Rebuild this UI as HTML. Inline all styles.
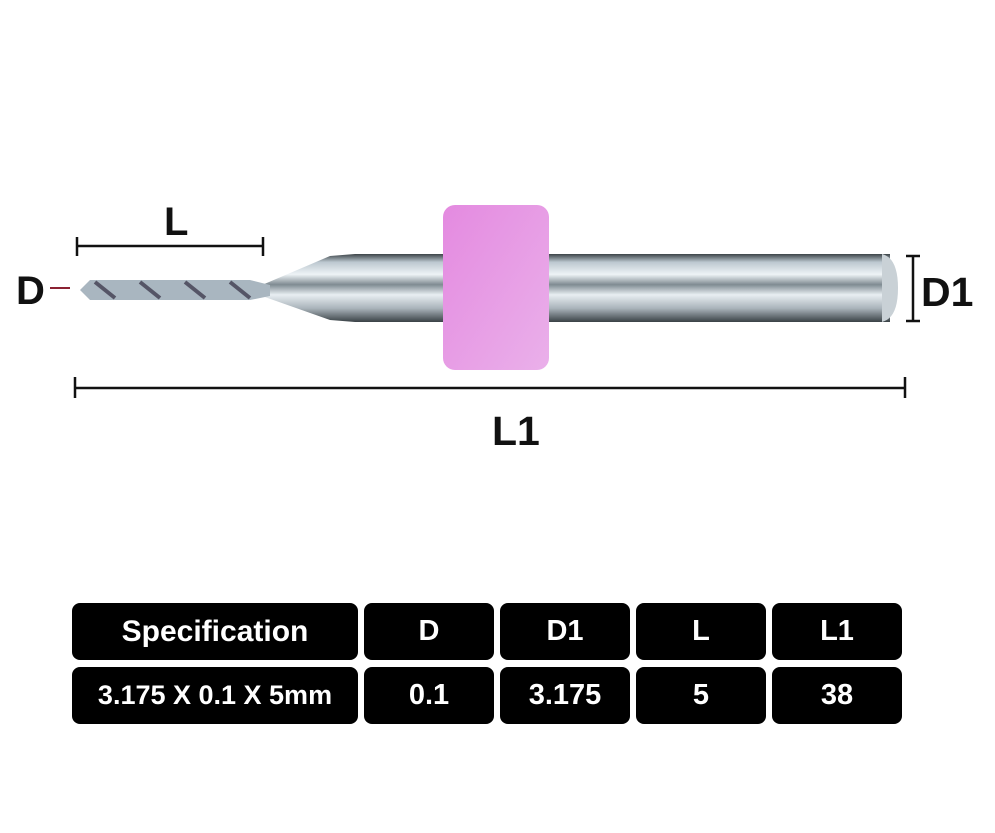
<!DOCTYPE html>
<html><head><style>
body{margin:0;width:995px;height:833px;background:#fff;position:relative;overflow:hidden;font-family:"Liberation Sans",sans-serif}
.c{position:absolute;background:#000;color:#fff;border-radius:8px;display:flex;align-items:center;justify-content:center;font-weight:bold;font-size:29px}
.t{position:absolute;font-weight:bold;color:#111}
</style></head><body>
<svg width="995" height="833" style="position:absolute;left:0;top:0">
<defs>
<linearGradient id="sh" x1="0" y1="0" x2="0" y2="1">
<stop offset="0" stop-color="#3c4448"/><stop offset="0.12" stop-color="#bcc8d0"/><stop offset="0.3" stop-color="#eef3f6"/><stop offset="0.45" stop-color="#7f8b92"/><stop offset="0.6" stop-color="#e8eef2"/><stop offset="0.8" stop-color="#a9b3ba"/><stop offset="1" stop-color="#3a4246"/>
</linearGradient>
<linearGradient id="pk" x1="0" y1="0" x2="1" y2="1">
<stop offset="0" stop-color="#e48ae0"/><stop offset="1" stop-color="#eab0ea"/>
</linearGradient>
</defs>
<polygon points="262,285 330,256 355,254 355,322 330,320 262,296" fill="url(#sh)"/>
<rect x="355" y="254" width="535" height="68" fill="url(#sh)"/>
<path d="M882,254 Q898,258 898,288 Q898,318 882,322 Z" fill="#c9d1d6"/>
<path d="M80,290 L90,280 L250,280 L270,285 L270,296 L250,300 L90,300 Z" fill="#a9b6c0"/>
<path d="M95,282 l20,16 M140,282 l20,16 M185,282 l20,16 M230,282 l20,16" stroke="#556" stroke-width="4"/>
<rect x="443" y="205" width="106" height="165" rx="12" fill="url(#pk)"/>
<g stroke="#111" stroke-width="2.5" fill="none">
<path d="M77,246 H263 M77,237 V256 M263,237 V256"/>
<path d="M75,388 H905 M75,377 V398 M905,377 V398"/>
<path d="M913,256 V321 M906,256 H920 M906,321 H920"/>
</g>
<path d="M50,288 H70" stroke="#8b2233" stroke-width="2"/>
</svg>
<div class="t" style="left:164px;top:200px;font-size:40px">L</div>
<div class="t" style="left:16px;top:269px;font-size:40px">D</div>
<div class="t" style="left:921px;top:269px;font-size:41px">D1</div>
<div class="t" style="left:492px;top:408px;font-size:41px">L1</div>
<div class="c" style="left:72px;top:603px;width:286px;height:57px;font-size:30px">Specification</div>
<div class="c" style="left:364px;top:603px;width:130px;height:57px">D</div>
<div class="c" style="left:500px;top:603px;width:130px;height:57px">D1</div>
<div class="c" style="left:636px;top:603px;width:130px;height:57px">L</div>
<div class="c" style="left:772px;top:603px;width:130px;height:57px">L1</div>
<div class="c" style="left:72px;top:667px;width:286px;height:57px;font-size:27px">3.175 X 0.1 X 5mm</div>
<div class="c" style="left:364px;top:667px;width:130px;height:57px">0.1</div>
<div class="c" style="left:500px;top:667px;width:130px;height:57px">3.175</div>
<div class="c" style="left:636px;top:667px;width:130px;height:57px">5</div>
<div class="c" style="left:772px;top:667px;width:130px;height:57px">38</div>
</body></html>
